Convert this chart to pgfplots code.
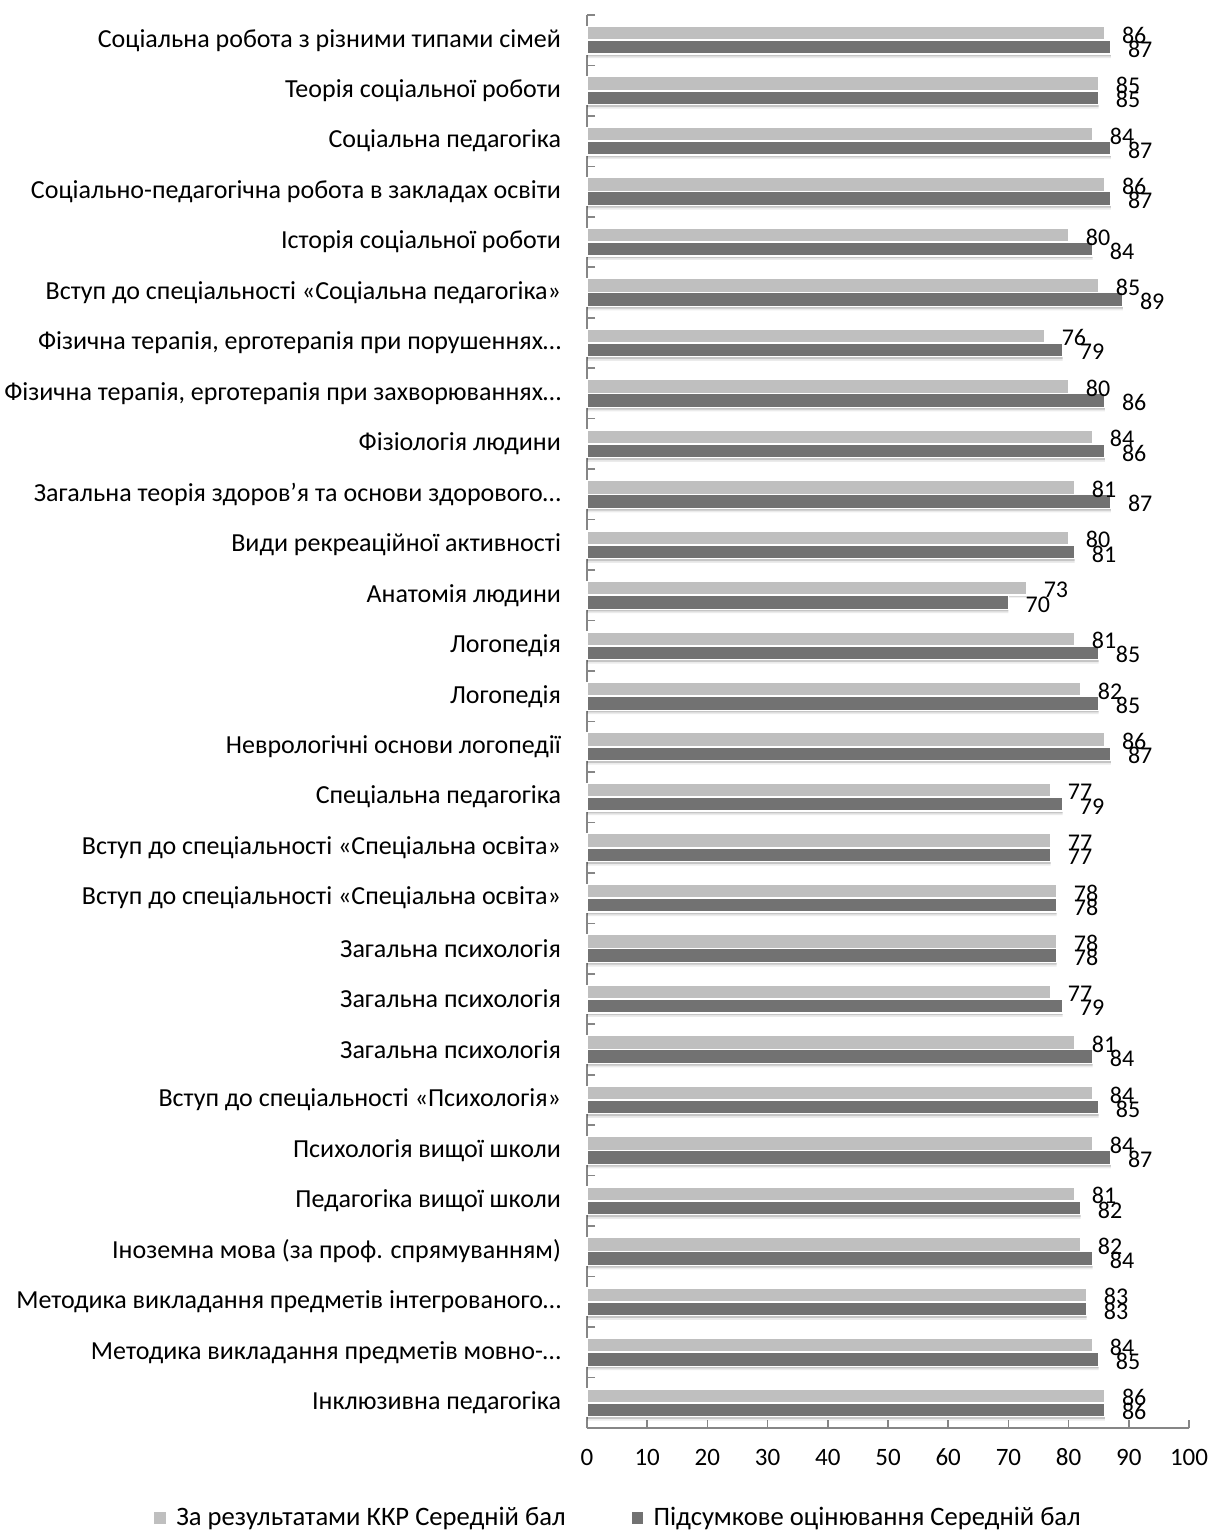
\documentclass[border=0pt]{standalone}
\usepackage{fontspec}
\setmainfont{Carlito}
\usepackage{pgfplots}
\pgfplotsset{compat=1.18}

\definecolor{lgray}{HTML}{BFBFBF}
\definecolor{dgray}{HTML}{727272}
\definecolor{axgray}{HTML}{868686}

% values from top row (27) to bottom row (0)
\pgfplotstableread{
y kkr final
27 86 87
26 85 85
25 84 87
24 86 87
23 80 84
22 85 89
21 76 79
20 80 86
19 84 86
18 81 87
17 80 81
16 73 70
15 81 85
14 82 85
13 86 87
12 77 79
11 77 77
10 78 78
9 78 78
8 77 79
7 81 84
6 84 85
5 84 87
4 81 82
3 82 84
2 83 83
1 84 85
0 86 86
}\scores

\begin{document}
\begin{tikzpicture}
\begin{axis}[
  scale only axis,
  width=301pt, height=706.5pt,
  xmin=0, xmax=100, ymin=-0.5, ymax=27.5,
  axis x line*=bottom,
  axis y line*=left,
  axis line style={-, draw=axgray, line width=0.8pt},
  xtick={0,10,...,100},
  major tick length=4pt,
  minor tick length=-4pt,
  tick style={draw=axgray, line width=0.8pt},
  major y tick style={draw=none},
  ytick={0,...,27},
  minor ytick={-0.5,0.5,...,27.5},
  yticklabels={
    Інклюзивна педагогіка,
    Методика викладання предметів мовно-…,
    Методика викладання предметів інтегрованого…,
    Іноземна мова (за проф. спрямуванням),
    Педагогіка вищої школи,
    Психологія вищої школи,
    Вступ до спеціальності «Психологія»,
    Загальна психологія,
    Загальна психологія,
    Загальна психологія,
    Вступ до спеціальності «Спеціальна освіта»,
    Вступ до спеціальності «Спеціальна освіта»,
    Спеціальна педагогіка,
    Неврологічні основи логопедії,
    Логопедія,
    Логопедія,
    Анатомія людини,
    Види рекреаційної активності,
    Загальна теорія здоров’я та основи здорового…,
    Фізіологія людини,
    Фізична терапія{,} ерготерапія при захворюваннях…,
    Фізична терапія{,} ерготерапія при порушеннях…,
    Вступ до спеціальності «Соціальна педагогіка»,
    Історія соціальної роботи,
    Соціально-педагогічна робота в закладах освіти,
    Соціальна педагогіка,
    Теорія соціальної роботи,
    Соціальна робота з різними типами сімей
  },
  yticklabel style={font=\fontsize{13}{15.6}\selectfont, xshift=-5.5pt},
  xticklabel style={font=\fontsize{12.5}{15}\selectfont, yshift=-7pt,
    text height=1.7ex, text depth=0.2ex},
  /pgf/number format/assume math mode=true,
  xbar, bar width=0.27,
  every node near coord/.append style={font=\fontsize{12}{14}\selectfont, text=black, anchor=west, xshift=5pt, yshift=-1pt},
  clip=false,
  legend columns=2,
  legend style={draw=none, at={(rel axis cs:0.054,-0.0637)}, anchor=center,
    font=\fontsize{13.3}{16}\selectfont,
    /tikz/every even column/.append style={column sep=31pt}},
]
% soft shadows under the bars
\addplot[forget plot, fill=black, opacity=0.16, draw=none, bar shift=0.14-0.045]
  table[x=kkr, y=y] {\scores};
\addplot[forget plot, fill=black, opacity=0.16, draw=none, bar shift=-0.14-0.045]
  table[x=final, y=y] {\scores};
\addplot[forget plot, fill=black, opacity=0.08, draw=none, bar shift=-0.14-0.08]
  table[x=final, y=y] {\scores};
% bars
\addplot[forget plot, fill=lgray, draw=white, line width=0.6pt, bar shift=0.14, nodes near coords]
  table[x=kkr, y=y] {\scores};
\addplot[forget plot, fill=dgray, draw=white, line width=0.6pt, bar shift=-0.14, nodes near coords]
  table[x=final, y=y] {\scores};
% legend
\addlegendimage{legend image code/.code={\fill[lgray, draw=none] (0pt,-2.9pt) rectangle (5.8pt,2.9pt);
  \path[draw=none, fill=none] (0pt,0pt) -- (9pt,0pt);}}
\addlegendentry{За результатами ККР Середній бал}
\addlegendimage{legend image code/.code={\fill[dgray, draw=none] (0pt,-2.9pt) rectangle (5.8pt,2.9pt);
  \path[draw=none, fill=none] (0pt,0pt) -- (9pt,0pt);}}
\addlegendentry{Підсумкове оцінювання Середній бал}
\coordinate (bl) at (rel axis cs:-0.9751,-0.0736);
\coordinate (tr) at (rel axis cs:1.0399,1.0106);
\end{axis}
\pgfresetboundingbox
\path[use as bounding box] (bl) rectangle (tr);
\end{tikzpicture}
\end{document}
